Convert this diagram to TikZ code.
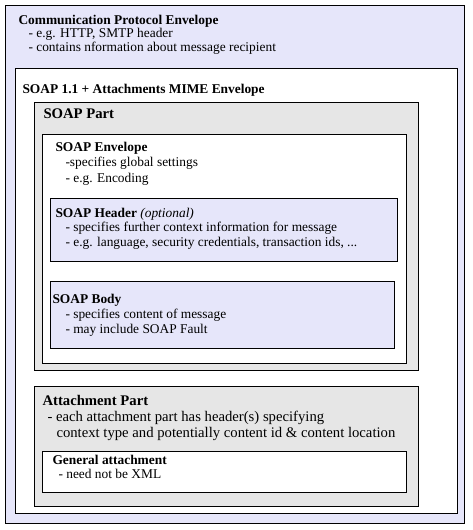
\documentclass[tikz,border=0pt]{standalone}
\usepackage{fontspec}
\setmainfont{Liberation Serif}
\definecolor{lav}{RGB}{230,230,250}
\definecolor{lgray}{RGB}{230,230,230}
\newcommand{\hd}[1]{\textbf{#1}}

\begin{document}
\begin{tikzpicture}[x=1pt, y=-1pt, line width=1pt,
    lavbox/.style={draw=black, fill=lav},
    graybox/.style={draw=black, fill=lgray},
    whitebox/.style={draw=black, fill=white},
    txt/.style={anchor=base west, inner sep=0pt, font=\fontsize{13.4}{15}\selectfont},
    bigtxt/.style={anchor=base west, inner sep=0pt, font=\fontsize{14.7}{17}\selectfont}]
  \useasboundingbox (0,0) rectangle (473,530);
  \draw[lavbox] (5,5) rectangle (464,523);
  \draw[whitebox] (15,68) rectangle (457,513);
  \draw[graybox] (34,102) rectangle (418,370);
  \draw[whitebox] (42,134) rectangle (406,363);
  \draw[lavbox] (50,198) rectangle (397,261);
  \draw[lavbox] (50,281) rectangle (394,348);
  \draw[graybox] (34,386) rectangle (418,506);
  \draw[whitebox] (42,451) rectangle (406,492);

  \node[txt] (cpe) at (18,24) {\hd{Communication Protocol Envelope}};
  \node[txt] (cpe1) at (28,37.5) {- e.g. HTTP, SMTP header};
  \node[txt] (cpe2) at (28,51) {- contains nformation about message recipient};

  \node[txt] (mime) at (22,93) {\hd{SOAP 1.1 + Attachments MIME Envelope}};

  \node[bigtxt] (part) at (43,118) {\hd{SOAP Part}};

  \node[txt] (env) at (55,151) {\hd{SOAP Envelope}};
  \node[txt] (env1) at (65,166.5) {-specifies global settings};
  \node[txt] (env2) at (65,182) {- e.g. Encoding};

  \node[txt] (hdr) at (55,217) {\hd{SOAP Header} \textit{(optional)}};
  \node[txt] (hdr1) at (65,231.5) {- specifies further context information for message};
  \node[txt] (hdr2) at (65,246.5) {- e.g. language, security credentials, transaction ids, ...};

  \node[txt] (body) at (52,303) {\hd{SOAP Body}};
  \node[txt] (body1) at (65,318) {- specifies content of message};
  \node[txt] (body2) at (65,333) {- may include SOAP Fault};

  \node[bigtxt] (att) at (42,405) {\hd{Attachment Part}};
  \node[bigtxt] (att1) at (47,421.5) {- each attachment part has header(s) specifying};
  \node[bigtxt] (att2) at (56,437) {context type and potentially content id \& content location};

  \node[txt] (gen) at (52,464) {\hd{General attachment}};
  \node[txt] (gen1) at (58,478) {- need not be XML};
\end{tikzpicture}
\end{document}
